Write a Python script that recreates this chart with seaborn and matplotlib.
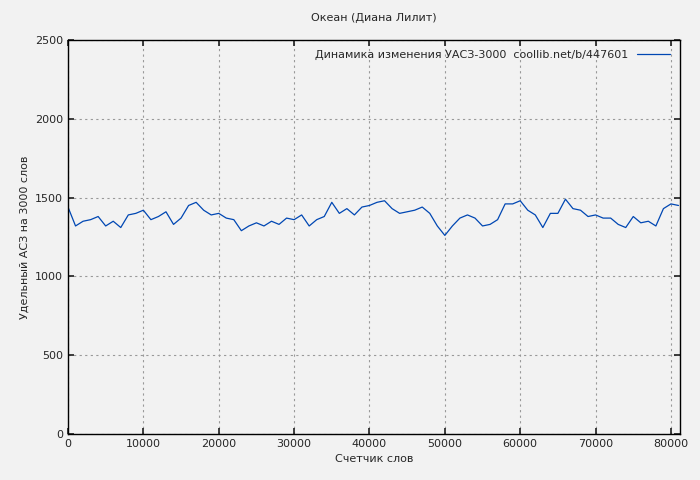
import matplotlib
matplotlib.use("Agg")
import matplotlib.pyplot as plt
import seaborn as sns
import pandas as pd

words = list(range(0, 82000, 1000))
values = [1440,1320,1350,1360,1380,1320,1350,1310,1390,1400,1420,1360,1380,1410,1330,1370,1450,1470,1420,1390,
          1400,1370,1360,1290,1320,1340,1320,1350,1330,1370,1360,1390,1320,1360,1380,1470,1400,1430,1390,1440,
          1450,1470,1480,1430,1400,1410,1420,1440,1400,1320,1260,1320,1370,1390,1370,1320,1330,1360,1460,1460,
          1480,1420,1390,1310,1400,1400,1490,1430,1420,1380,1390,1370,1370,1330,1310,1380,1340,1350,1320,1430,
          1460,1450]
df = pd.DataFrame({"x": words, "y": values})

sns.set_theme(style="white")
plt.rcParams['font.family'] = ['DejaVu Sans']
fig = plt.figure(figsize=(7, 4.8), dpi=100, facecolor="#f2f2f2")
ax = fig.add_axes([68/700, 46/480, 612/700, 394/480])
ax.set_facecolor("#f2f2f2")
sns.lineplot(data=df, x="x", y="y", ax=ax, color="#0047b3", linewidth=0.9,
             label="Динамика изменения УАСЗ-3000  coollib.net/b/447601")
ax.set_xlim(0, 81200)
ax.set_ylim(0, 2500)
ax.set_xticks(range(0, 80001, 10000))
ax.set_yticks(range(0, 2501, 500))
ax.grid(True, color="#999999", linestyle=(0, (2, 3)), linewidth=0.8)
for s in ax.spines.values():
    s.set_color("black"); s.set_linewidth(1)
ax.tick_params(labelsize=8, direction="in", length=4, left=True, bottom=True, right=True, top=True)
ax.set_xlabel("Счетчик слов", fontsize=8)
ax.set_ylabel("Удельный АСЗ на 3000 слов", fontsize=8)
ax.set_title("Океан (Диана Лилит)", fontsize=8, pad=14)
leg = ax.legend(loc="upper right", frameon=False, fontsize=8, markerfirst=False, handlelength=3)
fig.savefig("out.png", dpi=100, facecolor=fig.get_facecolor())
